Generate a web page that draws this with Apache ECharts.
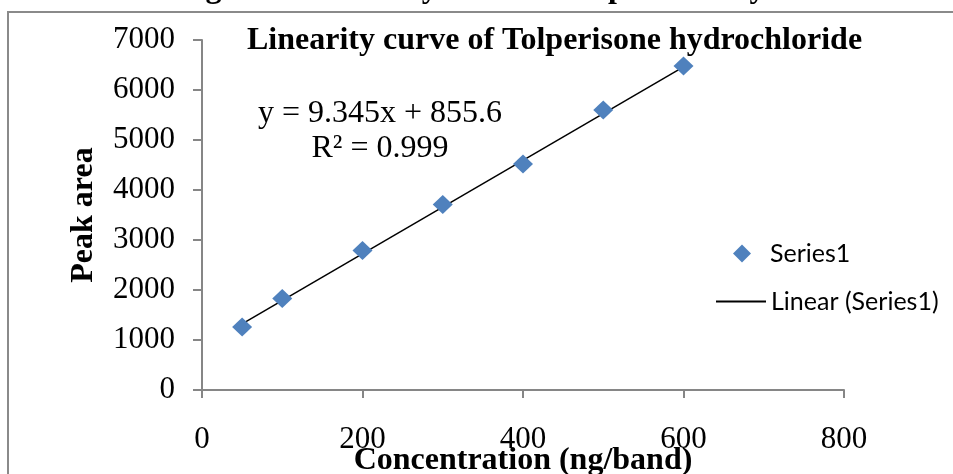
<!DOCTYPE html>
<html>
<head>
<meta charset="utf-8">
<script src="https://cdn.jsdelivr.net/npm/echarts@6/dist/echarts.min.js"></script>
<style>
  html, body { margin: 0; padding: 0; background: #ffffff; }
  #chart { width: 953px; height: 474px; }
</style>
</head>
<body>
<div id="chart"></div>
<script>
// Concentration of Tolperisone hydrochloride (ng/band)
const concentration = [50, 100, 200, 300, 400, 500, 600];
// Measured peak areas
const peakArea = [1260, 1830, 2790, 3710, 4520, 5600, 6480];
// Least-squares fit reported for the calibration
const slope = 9.345;
const intercept = 855.6;
const rSquared = '0.999';
// Axis ranges
const xAxisRange = { min: 0, max: 800, interval: 200 };
const yAxisRange = { min: 0, max: 7000, interval: 1000 };

const serif = '"Liberation Serif", "Times New Roman", serif';
const sans = 'Lato, "Liberation Sans", sans-serif';
const axisGray = '#868686';

// Trend line endpoints from the fitted equation
const xFirst = Math.min(...concentration);
const xLast = Math.max(...concentration);
const trend = [[xFirst, slope * xFirst + intercept], [xLast, slope * xLast + intercept]];

const plain = v => String(v);

const chart = echarts.init(document.getElementById('chart'), null, { renderer: 'canvas' });

chart.setOption({
  animation: false,
  backgroundColor: '#ffffff',
  title: {
    text: 'Linearity curve of Tolperisone hydrochloride',
    left: 247,
    top: 25,
    padding: 0,
    textStyle: { fontFamily: serif, fontSize: 32, fontWeight: 'bold', color: '#000', lineHeight: 32 }
  },
  grid: { left: 202, right: 109, top: 40, bottom: 84, containLabel: false, outerBoundsMode: 'none' },
  xAxis: {
    type: 'value',
    min: xAxisRange.min, max: xAxisRange.max, interval: xAxisRange.interval,
    name: 'Concentration (ng/band)',
    nameLocation: 'middle',
    nameGap: 55,
    nameMoveOverlap: false,
    nameTextStyle: { fontFamily: serif, fontSize: 32, fontWeight: 'bold', color: '#000' },
    axisLine: { show: true, onZero: false, lineStyle: { color: axisGray, width: 2 } },
    axisTick: { show: true, inside: false, length: 8, lineStyle: { color: axisGray, width: 2 } },
    splitLine: { show: false },
    axisLabel: { fontFamily: serif, fontSize: 31, color: '#000', margin: 34, formatter: plain }
  },
  yAxis: {
    type: 'value',
    min: yAxisRange.min, max: yAxisRange.max, interval: yAxisRange.interval,
    name: 'Peak area',
    nameLocation: 'middle',
    nameGap: 102,
    nameMoveOverlap: false,
    nameRotate: 90,
    nameTextStyle: { fontFamily: serif, fontSize: 32, fontWeight: 'bold', color: '#000' },
    axisLine: { show: true, onZero: false, lineStyle: { color: axisGray, width: 2 } },
    axisTick: { show: true, inside: false, length: 9, lineStyle: { color: axisGray, width: 2 } },
    splitLine: { show: false },
    axisLabel: { fontFamily: serif, fontSize: 31, color: '#000', margin: 27, formatter: plain }
  },
  legend: [
    {
      data: [{ name: 'Series1', icon: 'diamond' }],
      left: 733, top: 241,
      orient: 'vertical',
      itemWidth: 18, itemHeight: 18,
      padding: 0,
      itemStyle: { opacity: 1 },
      textStyle: { fontFamily: sans, fontSize: 25, color: '#000', padding: [0, 0, 0, 14] }
    },
    {
      data: [{ name: 'Linear (Series1)', icon: 'rect' }],
      left: 716, top: 289,
      orient: 'vertical',
      itemWidth: 50, itemHeight: 2,
      padding: 0,
      textStyle: { fontFamily: sans, fontSize: 25, color: '#000' }
    }
  ],
  graphic: [
    // Outer frame around the figure
    {
      type: 'rect',
      shape: { x: 8, y: 12, width: 1000, height: 520 },
      style: { fill: 'none', stroke: '#8a8a8a', lineWidth: 2 },
      silent: true
    },
    // Figure caption above the frame
    {
      type: 'text',
      x: 177, y: -27,
      style: {
        text: 'Figure 3: Linearity curve of Tolperisone hydrochloride',
        font: 'bold 32px ' + serif,
        fill: '#000',
        align: 'left',
        verticalAlign: 'top'
      },
      silent: true
    },
    // Regression equation and coefficient of determination
    {
      type: 'text',
      x: 380, y: 114,
      style: {
        text: 'y = ' + slope + 'x + ' + intercept,
        font: '32px ' + serif,
        fill: '#000',
        align: 'center',
        verticalAlign: 'middle'
      },
      silent: true
    },
    {
      type: 'text',
      x: 380, y: 149,
      style: {
        text: 'R² = ' + rSquared,
        font: '32px ' + serif,
        fill: '#000',
        align: 'center',
        verticalAlign: 'middle'
      },
      silent: true
    }
  ],
  series: [
    {
      name: 'Linear (Series1)',
      type: 'line',
      data: trend,
      showSymbol: false,
      symbol: 'none',
      lineStyle: { color: '#000', width: 1.5 },
      itemStyle: { color: '#000' },
      z: 2
    },
    {
      name: 'Series1',
      type: 'scatter',
      data: concentration.map((c, i) => [c, peakArea[i]]),
      symbol: 'diamond',
      symbolSize: [20, 19],
      itemStyle: { color: '#4F81BD', opacity: 1 },
      z: 3
    }
  ]
});
</script>
</body>
</html>
